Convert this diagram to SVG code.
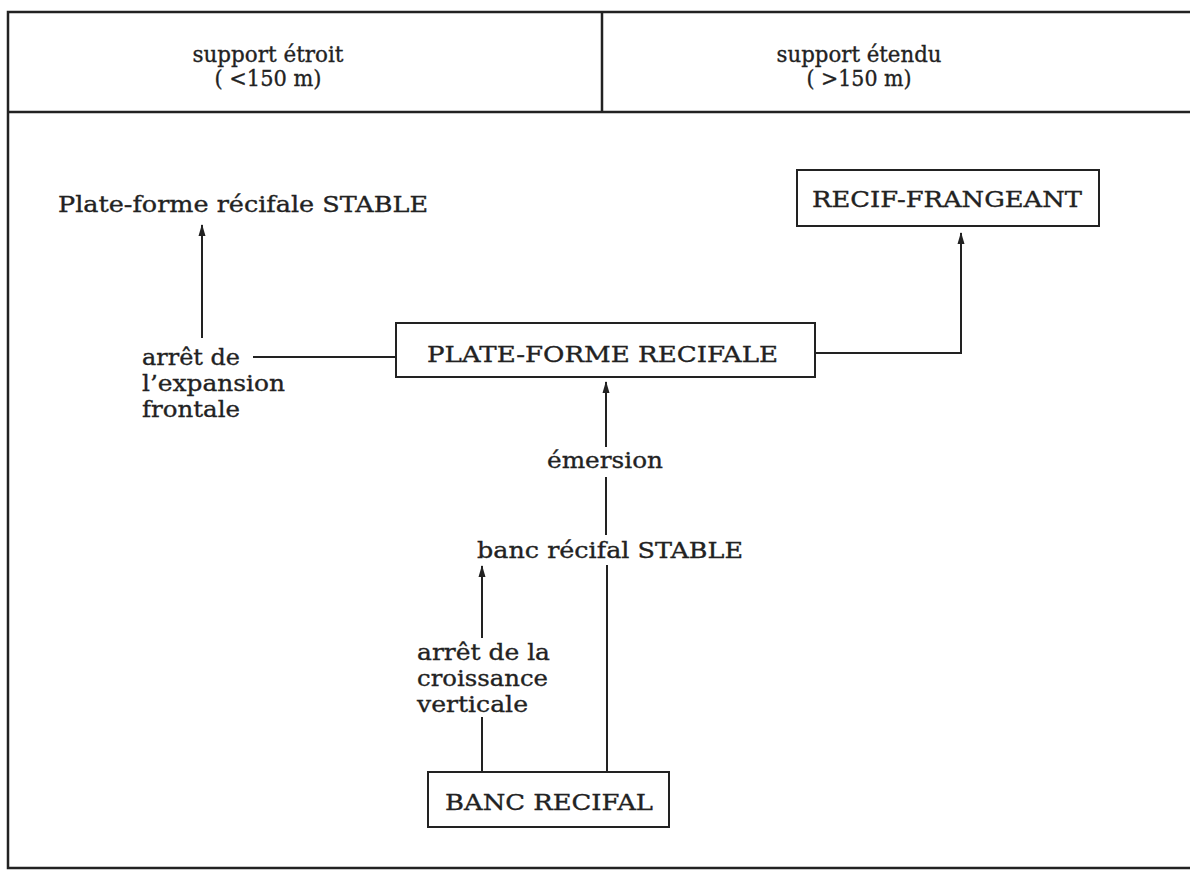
<svg xmlns="http://www.w3.org/2000/svg" width="1190" height="870" viewBox="0 0 1190 870">
<defs>
<marker id="arr" viewBox="0 0 12 10" refX="11" refY="5" markerWidth="12" markerHeight="10" markerUnits="userSpaceOnUse" orient="auto">
<path d="M0,1.5 L12,5 L0,8.5 Z" fill="#222"/>
</marker>
<style>
text{font-family:"DejaVu Serif","Liberation Serif",serif;font-size:23px;fill:#222;stroke:#222;stroke-width:0.35}
.c{text-anchor:middle}
.frame{stroke:#222;stroke-width:2.5;fill:none}
.box{stroke:#222;stroke-width:2;fill:#fff}
.ln{stroke:#222;stroke-width:2;fill:none}
</style>
</defs>
<rect width="1190" height="870" fill="#fff"/>
<g id="frame">
<path class="frame" d="M1190,12 H8 V868 H1190 M8,112 H1190 M602,12 V112"/>
</g>
<g id="header-left">
<text class="c" x="268" y="62" textLength="151" lengthAdjust="spacingAndGlyphs">support étroit</text>
<text class="c" x="268" y="86" textLength="107" lengthAdjust="spacingAndGlyphs">( &lt;150 m)</text>
</g>
<g id="header-right">
<text class="c" x="859" y="62" textLength="165" lengthAdjust="spacingAndGlyphs">support étendu</text>
<text class="c" x="859" y="86" textLength="105" lengthAdjust="spacingAndGlyphs">( &gt;150 m)</text>
</g>
<g id="connectors">
<path class="ln" d="M202,338 V225" marker-end="url(#arr)"/>
<path class="ln" d="M253,357 H396"/>
<path class="ln" d="M815,353 H961 V233" marker-end="url(#arr)"/>
<path class="ln" d="M606,447 V382" marker-end="url(#arr)"/>
<path class="ln" d="M606,535 V477"/>
<path class="ln" d="M607,772 V565"/>
<path class="ln" d="M482,772 V717"/>
<path class="ln" d="M482,638 V566" marker-end="url(#arr)"/>
</g>
<g id="plateforme-stable">
<text x="58" y="212" textLength="370" lengthAdjust="spacingAndGlyphs">Plate-forme récifale STABLE</text>
</g>
<g id="arret-expansion">
<text x="142" y="365" textLength="98" lengthAdjust="spacingAndGlyphs">arrêt de</text>
<text x="142" y="391" textLength="143" lengthAdjust="spacingAndGlyphs">l’expansion</text>
<text x="142" y="417" textLength="98" lengthAdjust="spacingAndGlyphs">frontale</text>
</g>
<g id="recif-frangeant">
<rect class="box" x="797" y="170" width="302" height="56"/>
<text x="812" y="207" textLength="270" lengthAdjust="spacingAndGlyphs">RECIF-FRANGEANT</text>
</g>
<g id="plateforme-recifale">
<rect class="box" x="396" y="323" width="419" height="54"/>
<text x="427" y="362" textLength="351" lengthAdjust="spacingAndGlyphs">PLATE-FORME RECIFALE</text>
</g>
<g id="emersion">
<text x="547" y="468" textLength="116" lengthAdjust="spacingAndGlyphs">émersion</text>
</g>
<g id="banc-stable">
<text x="477" y="558" textLength="266" lengthAdjust="spacingAndGlyphs">banc récifal STABLE</text>
</g>
<g id="arret-croissance">
<text x="417" y="660" textLength="133" lengthAdjust="spacingAndGlyphs">arrêt de la</text>
<text x="417" y="686" textLength="131" lengthAdjust="spacingAndGlyphs">croissance</text>
<text x="417" y="712" textLength="111" lengthAdjust="spacingAndGlyphs">verticale</text>
</g>
<g id="banc-recifal">
<rect class="box" x="428" y="772" width="241" height="55"/>
<text x="445" y="810" textLength="208" lengthAdjust="spacingAndGlyphs">BANC RECIFAL</text>
</g>
</svg>
